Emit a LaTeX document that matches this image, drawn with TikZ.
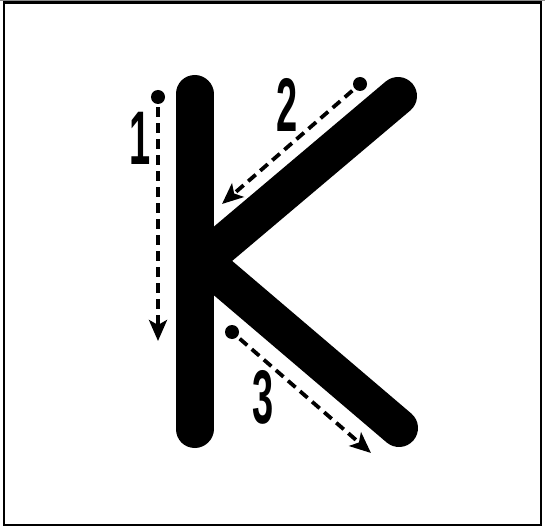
\documentclass[tikz,border=0pt]{standalone}
\usepackage{fontspec}
\setmainfont{Liberation Sans}
\usepackage{tikz}
\usetikzlibrary{arrows.meta}
\definecolor{ink}{RGB}{0,0,0}
\definecolor{frame}{RGB}{140,140,140}
\newcommand{\strokenum}[1]{\scalebox{0.5}[1]{\fontsize{76}{76}\selectfont\bfseries #1}}

\begin{document}
\begin{tikzpicture}[x=1pt, y=-1pt,
    letter/.style={draw=ink, line width=38pt, line cap=round},
    startdot/.style={circle, fill=ink, inner sep=0pt, minimum size=14pt},
    guide/.style={draw=ink, line width=3.8pt, dash pattern=on 10pt off 6pt,
      -{Stealth[length=21pt, width=18pt, inset=5pt]}, shorten <=3pt},
    numlabel/.style={inner sep=0pt, text=ink}]
  \useasboundingbox (0,0) rectangle (545,529);
  \fill[white] (0,0) rectangle (545,529);
  \draw[frame, line width=1pt] (0,0.5) -- (545,0.5);
  \draw[ink, line width=2.5pt] (4,2.5) rectangle (541,525);
  % the letter K
  \coordinate (stemtop) at (194.5,94);
  \coordinate (stembot) at (194.5,429);
  \coordinate (armend) at (398,96);
  \coordinate (armjoin) at (205,259);
  \coordinate (legjoin) at (210,267);
  \coordinate (legend) at (399,428);
  \draw[letter] (stemtop) -- (stembot);
  \draw[letter] (armend) -- (armjoin);
  \draw[letter] (legjoin) -- (legend);
  % stroke order guides
  \node[startdot] (dotone) at (158,97) {};
  \coordinate (tipone) at (158,341);
  \draw[guide] (dotone) -- (tipone);
  \node[numlabel] (labone) at (140,138) {\strokenum{1}};
  \node[startdot] (dottwo) at (360,84) {};
  \coordinate (tiptwo) at (222,204);
  \draw[guide] (dottwo) -- (tiptwo);
  \node[numlabel] (labtwo) at (287,105) {\strokenum{2}};
  \node[startdot] (dotthree) at (232,332) {};
  \coordinate (tipthree) at (371,453);
  \draw[guide] (dotthree) -- (tipthree);
  \node[numlabel] (labthree) at (263,397) {\strokenum{3}};
\end{tikzpicture}
\end{document}
